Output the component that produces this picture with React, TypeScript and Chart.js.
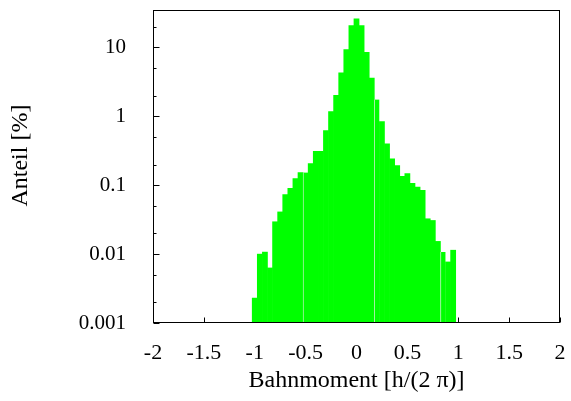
import React, { useEffect, useRef } from 'react';
import { Chart, registerables } from 'chart.js';

Chart.register(...registerables);

// Histogram bin centres (Bahnmoment, units of h/(2 pi))
const binCenters = [
  -1.0, -0.95, -0.9, -0.85, -0.8, -0.75, -0.7, -0.65, -0.6, -0.55,
  -0.5, -0.45, -0.4, -0.35, -0.3, -0.25, -0.2, -0.15, -0.1, -0.05,
  0.0, 0.05, 0.1, 0.15, 0.2, 0.25, 0.3, 0.35, 0.4, 0.45,
  0.5, 0.55, 0.6, 0.65, 0.7, 0.75, 0.8, 0.85, 0.9, 0.95,
];

// Share per bin, in percent
const shares = [
  0.0023, 0.010, 0.0107, 0.0063, 0.0295, 0.041, 0.073, 0.090, 0.125, 0.153,
  0.153, 0.206, 0.311, 0.311, 0.62, 1.17, 2.02, 4.3, 9.35, 20.8,
  26.1, 20.8, 8.47, 3.6, 1.75, 0.84, 0.40, 0.241, 0.193, 0.135,
  0.148, 0.107, 0.094, 0.084, 0.0326, 0.0308, 0.0153, 0.0107, 0.0077, 0.0114,
];

const xRange = [-2, 2];
const xTickStep = 0.5;
const yRange = [0.001, 35];

const xTitle = 'Bahnmoment [h/(2 π)]';
const yTitle = 'Anteil [%]';

// bins whose left edge shows a faint light seam in the original rendering
const seamBins = [10, 24, 37];

const FONT = '"Liberation Serif", "Times New Roman", serif';

const mantissa = (v: number) => {
  const e = Math.floor(Math.log10(v) + 1e-9);
  return Math.round((v / Math.pow(10, e)) * 1000) / 1000;
};

const tickMarksPlugin = {
  id: 'tickMarks',
  beforeDatasetsDraw(chart: any) {
    const { ctx, chartArea: a, scales } = chart;
    const xs = scales.x;
    const ys = scales.y;
    const L = Math.round(a.left) + 0.5;
    const B = Math.round(a.bottom) - 0.5;
    ctx.save();
    ctx.strokeStyle = '#000';
    ctx.lineWidth = 1;
    ctx.beginPath();
    xs.ticks.forEach((t: any) => {
      const px = Math.round(xs.getPixelForValue(t.value)) + 0.5;
      ctx.moveTo(px, B);
      ctx.lineTo(px, B - 5);
    });
    ys.ticks.forEach((t: any) => {
      const m = mantissa(t.value);
      let len = 0;
      if (m === 1) len = 6;
      else if (m === 2 || m === 5) len = 3;
      if (!len) return;
      const py = Math.round(ys.getPixelForValue(t.value)) + 0.5;
      ctx.moveTo(L, py);
      ctx.lineTo(L + len, py);
    });
    ctx.stroke();
    ctx.restore();
  },
  afterDraw(chart: any) {
    const { ctx, chartArea: a } = chart;
    const L = Math.round(a.left) + 0.5;
    const R = Math.round(a.right) - 0.5;
    const T = Math.round(a.top) + 0.5;
    const B = Math.round(a.bottom) - 0.5;
    ctx.save();
    ctx.strokeStyle = '#000';
    ctx.lineWidth = 1;
    ctx.strokeRect(L, T, R - L, B - T);
    // y-axis title (placed slightly above the plot centre, as in the original)
    ctx.translate(21, a.top + (a.bottom - a.top) * 0.465);
    ctx.rotate(-Math.PI / 2);
    ctx.fillStyle = '#000';
    ctx.font = `24px ${FONT}`;
    ctx.textAlign = 'center';
    ctx.textBaseline = 'middle';
    ctx.fillText(yTitle, 0, 0);
    ctx.restore();
  },
};

const clearScalePadding = (s: any) => {
  s.paddingLeft = 0;
  s.paddingRight = 0;
  s.paddingTop = 0;
  s.paddingBottom = 0;
};

export default function App() {
  const ref = useRef<HTMLCanvasElement>(null);

  useEffect(() => {
    if (!ref.current) return;
    const chart = new Chart(ref.current, {
      type: 'bar',
      data: {
        datasets: [
          {
            data: binCenters.map((x, i) => ({ x, y: shares[i] })),
            backgroundColor: '#00ff00',
            borderColor: '#a6f2a6',
            borderWidth: (c: any) =>
              seamBins.includes(c.dataIndex) ? { left: 1, right: 0, top: 0, bottom: 0 } : 0,
            borderSkipped: false,
            barPercentage: 1,
            categoryPercentage: 1,
          } as any,
        ],
      },
      options: {
        responsive: false,
        animation: false,
        devicePixelRatio: 1,
        layout: { padding: { top: 10, right: 11, left: 0, bottom: 0 } },
        plugins: { legend: { display: false }, tooltip: { enabled: false } },
        scales: {
          x: {
            type: 'linear',
            min: xRange[0],
            max: xRange[1],
            offset: false,
            grid: { display: false, drawTicks: false },
            border: { display: false },
            ticks: {
              stepSize: xTickStep,
              padding: 17,
              color: '#000',
              maxRotation: 0,
              autoSkip: false,
              font: { family: FONT, size: 22 },
              callback: (v: any) => String(Number(v)),
            },
            title: {
              display: true,
              text: xTitle,
              color: '#000',
              font: { family: FONT, size: 24 },
              padding: { top: 0, bottom: 6 },
            },
            afterFit: (s: any) => {
              s.height = 78;
              clearScalePadding(s);
            },
          },
          y: {
            type: 'logarithmic',
            min: yRange[0],
            max: yRange[1],
            grid: { display: false, drawTicks: false },
            border: { display: false },
            ticks: {
              autoSkip: false,
              padding: 27,
              color: '#000',
              font: { family: FONT, size: 21 },
              callback: (v: any) => {
                const n = Number(v);
                const l = Math.log10(n);
                return Math.abs(l - Math.round(l)) < 1e-9 ? String(Number(n.toPrecision(1))) : '';
              },
            },
            title: { display: false, text: yTitle },
            afterFit: (s: any) => {
              s.width = 153;
              clearScalePadding(s);
            },
          },
        },
      } as any,
      plugins: [tickMarksPlugin],
    });
    return () => chart.destroy();
  }, []);

  return (
    <div style={{ position: 'fixed', left: 0, top: 0, width: 571, height: 401, background: '#fff' }}>
      <canvas ref={ref} width={571} height={401} style={{ display: 'block', width: 571, height: 401 }} />
    </div>
  );
}
